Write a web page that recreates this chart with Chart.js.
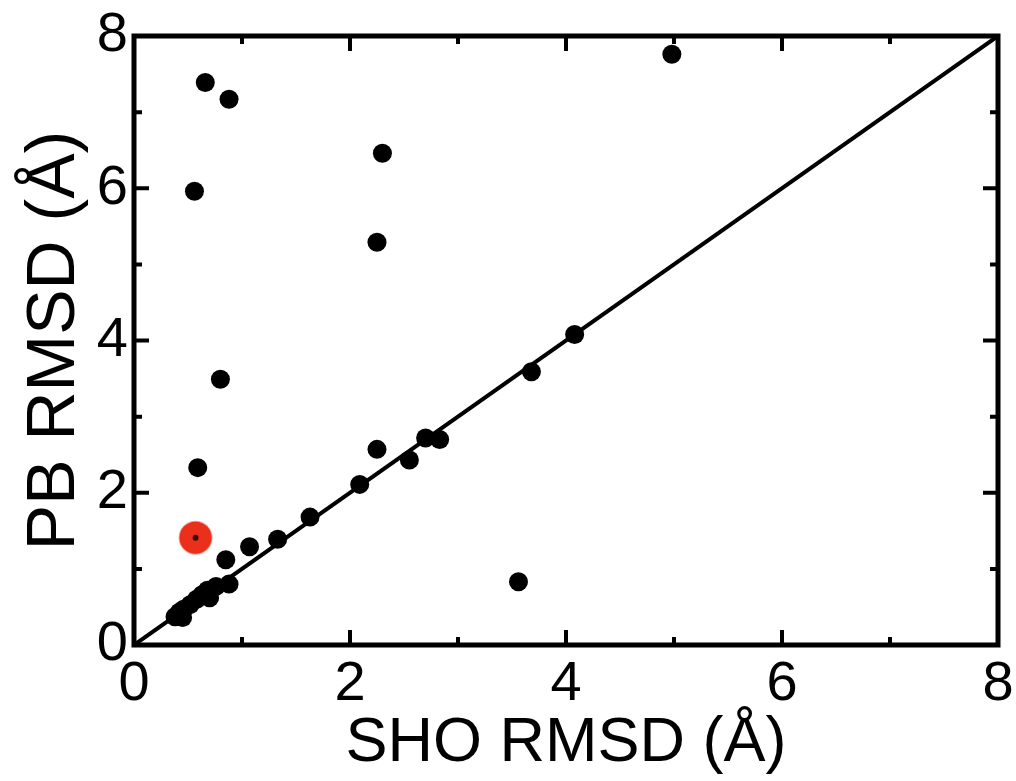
<!DOCTYPE html>
<html>
<head>
<meta charset="utf-8">
<script src="https://cdn.jsdelivr.net/npm/chart.js@4/dist/chart.umd.min.js"></script>
<style>
  html, body { margin: 0; padding: 0; background: #fff; }
  #wrap { width: 1016px; height: 781px; }
</style>
</head>
<body>
<div id="wrap"><canvas id="chart" width="1016" height="781"></canvas></div>
<script>
// SHO RMSD (x) vs PB RMSD (y), Å
const shoRmsd = [0.66, 0.88, 4.98, 2.30, 0.56, 2.25, 4.08, 0.80, 3.68, 2.25, 2.70, 2.83, 2.55, 0.59,
  2.09, 1.63, 1.33, 1.07, 0.85, 3.56, 0.38, 0.42, 0.46, 0.52, 0.58, 0.63, 0.68, 0.76, 0.88, 0.45, 0.70];
const pbRmsd = [7.39, 7.17, 7.76, 6.46, 5.96, 5.29, 4.08, 3.49, 3.59, 2.57, 2.72, 2.70, 2.43, 2.33,
  2.11, 1.68, 1.39, 1.29, 1.12, 0.83, 0.37, 0.43, 0.47, 0.53, 0.60, 0.66, 0.72, 0.77, 0.80, 0.36, 0.62];

// highlighted structure
const highlightX = [0.57];
const highlightY = [1.41];

// y = x reference line and axis ticks
const diagX = [0, 8];
const diagY = [0, 8];
const tickLabels = ["0", "2", "4", "6", "8"];

const toPoints = (xs, ys) => xs.map((x, i) => ({ x, y: ys[i] }));

const fontFamily = "'Liberation Sans', Arial, Helvetica, sans-serif";
const ink = "#000";

// frame + inward ticks on all four sides
const framePlugin = {
  id: "frame",
  afterDatasetsDraw(chart) {
    const { ctx, chartArea: a, scales } = chart;
    ctx.save();
    ctx.strokeStyle = ink;
    ctx.lineWidth = 4;
    ctx.lineCap = "butt";
    for (let v = 1; v < 8; v++) {
      const len = v % 2 === 0 ? 15 : 8;
      const px = scales.x.getPixelForValue(v);
      const py = scales.y.getPixelForValue(v);
      ctx.beginPath();
      ctx.moveTo(px, a.bottom); ctx.lineTo(px, a.bottom - len);
      ctx.moveTo(px, a.top); ctx.lineTo(px, a.top + len);
      ctx.moveTo(a.left, py); ctx.lineTo(a.left + len, py);
      ctx.moveTo(a.right, py); ctx.lineTo(a.right - len, py);
      ctx.stroke();
    }
    ctx.lineWidth = 5;
    ctx.strokeRect(a.left, a.top, a.right - a.left, a.bottom - a.top);
    ctx.restore();
  },
};

new Chart(document.getElementById("chart"), {
  type: "scatter",
  data: {
    datasets: [
      {
        type: "line",
        data: toPoints(diagX, diagY),
        borderColor: ink,
        borderWidth: 4,
        pointRadius: 0,
        fill: false,
        order: 3,
      },
      {
        data: toPoints(shoRmsd, pbRmsd),
        backgroundColor: ink,
        borderWidth: 0,
        pointRadius: 9.5,
        order: 2,
      },
      {
        data: toPoints(highlightX, highlightY),
        backgroundColor: "#ea2f1a",
        borderColor: "rgba(234,47,26,0.45)",
        borderWidth: 2,
        pointRadius: 16,
        order: 1,
      },
      {
        data: toPoints(highlightX, highlightY),
        backgroundColor: "#3a0a05",
        borderWidth: 0,
        pointRadius: 3,
        order: 0,
      },
    ],
  },
  options: {
    responsive: false,
    animation: false,
    layout: { padding: { top: 36, right: 16, left: 14, bottom: 0 } },
    plugins: {
      legend: { display: false },
      tooltip: { enabled: false },
    },
    scales: {
      x: {
        type: "linear",
        min: 0,
        max: 8,
        grid: { display: false, drawTicks: false },
        border: { display: false },
        ticks: {
          stepSize: 1,
          autoSkip: false,
          maxRotation: 0,
          padding: 6,
          color: ink,
          font: { family: fontFamily, size: 56 },
          callback: (v) => (v % 2 === 0 ? tickLabels[v / 2] : ""),
        },
        title: {
          display: true,
          text: "SHO RMSD (Å)",
          color: ink,
          font: { family: fontFamily, size: 63 },
          padding: { top: 0, bottom: 0 },
        },
        afterFit(scale) {
          scale.height = 136;
          scale.paddingLeft = 0;
          scale.paddingRight = 0;
        },
      },
      y: {
        type: "linear",
        min: 0,
        max: 8,
        grid: { display: false, drawTicks: false },
        border: { display: false },
        ticks: {
          stepSize: 1,
          autoSkip: false,
          padding: 6,
          color: ink,
          font: { family: fontFamily, size: 56 },
          callback: (v) => (v % 2 === 0 ? tickLabels[v / 2] : ""),
        },
        title: {
          display: true,
          text: "PB RMSD (Å)",
          color: ink,
          font: { family: fontFamily, size: 68 },
          padding: { top: 0, bottom: 0 },
        },
        afterFit(scale) {
          scale.width = 120;
          scale.paddingTop = 0;
          scale.paddingBottom = 0;
        },
      },
    },
  },
  plugins: [framePlugin],
});
</script>
</body>
</html>
